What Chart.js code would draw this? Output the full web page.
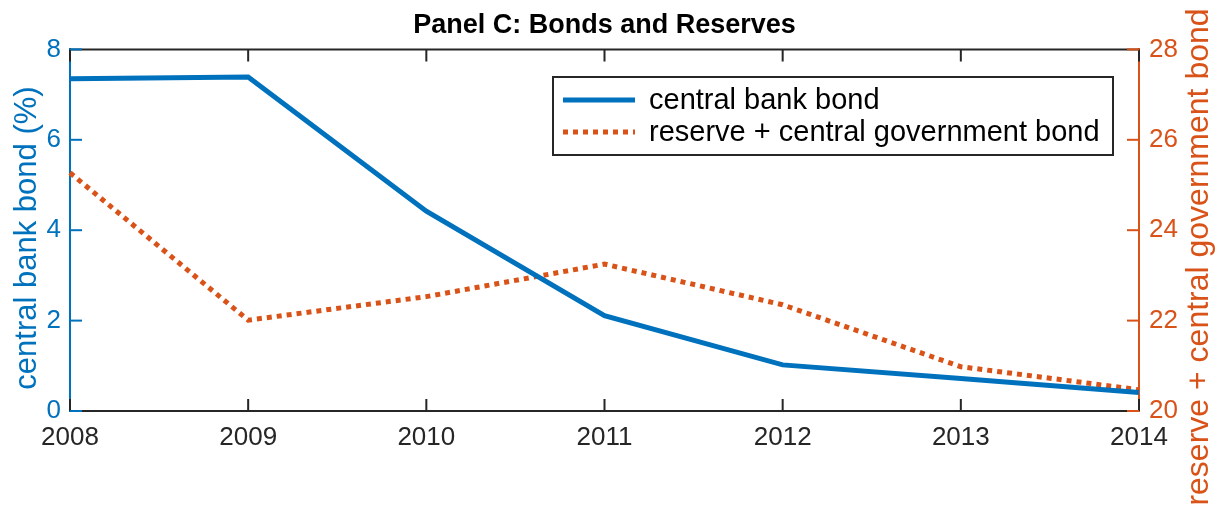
<!DOCTYPE html>
<html>
<head>
<meta charset="utf-8">
<title>Panel C: Bonds and Reserves</title>
<script src="https://cdn.jsdelivr.net/npm/chart.js@4/dist/chart.umd.min.js"></script>
<style>
  html, body { margin: 0; padding: 0; background: #fff; }
  #bondsChart { display: block; }
</style>
</head>
<body>
<canvas id="bondsChart" width="1225" height="512"></canvas>
<script>
const years = ['2008', '2009', '2010', '2011', '2012', '2013', '2014'];
const centralBankBond = [7.35, 7.39, 4.42, 2.11, 1.02, 0.72, 0.41];
const reserveGovBond = [25.27, 22.01, 22.53, 23.25, 22.35, 20.98, 20.47];
const leftTicks = [0, 2, 4, 6, 8];
const rightTicks = [20, 22, 24, 26, 28];

const BLUE = '#0072BD';
const ORANGE = '#D95319';
const DARK = '#262626';
const FONT = "'Liberation Sans', Arial, Helvetica, sans-serif";

// tick marks inside the box, like the old matlab figures
const innerTicks = {
  id: 'innerTicks',
  beforeDatasetsDraw(chart) {
    const { ctx, chartArea: a, scales } = chart;
    const len = 12;
    ctx.save();
    ctx.lineWidth = 2;

    // top edge of the box
    ctx.strokeStyle = DARK;
    ctx.beginPath();
    ctx.moveTo(a.left, a.top);
    ctx.lineTo(a.right, a.top);
    ctx.stroke();

    scales.x.ticks.forEach((t, i) => {
      const x = scales.x.getPixelForTick(i);
      ctx.beginPath();
      ctx.moveTo(x, a.bottom);
      ctx.lineTo(x, a.bottom - len);
      ctx.moveTo(x, a.top);
      ctx.lineTo(x, a.top + len);
      ctx.stroke();
    });

    ctx.strokeStyle = BLUE;
    leftTicks.forEach(v => {
      const y = scales.y.getPixelForValue(v);
      ctx.beginPath();
      ctx.moveTo(a.left, y);
      ctx.lineTo(a.left + len, y);
      ctx.stroke();
    });

    ctx.strokeStyle = ORANGE;
    rightTicks.forEach(v => {
      const y = scales.y1.getPixelForValue(v);
      ctx.beginPath();
      ctx.moveTo(a.right, y);
      ctx.lineTo(a.right - len, y);
      ctx.stroke();
    });
    ctx.restore();
  }
};

// rotated axis titles (right one reads bottom to top)
function drawRotated(ctx, text, x, y, size, color) {
  ctx.save();
  ctx.font = size + 'px ' + FONT;
  ctx.textAlign = 'center';
  ctx.textBaseline = 'middle';
  ctx.fillStyle = color;
  ctx.translate(x, y);
  ctx.rotate(-Math.PI / 2);
  ctx.fillText(text, 0, 0);
  ctx.restore();
}

const axisTitles = {
  id: 'axisTitles',
  afterDraw(chart) {
    drawRotated(chart.ctx, 'central bank bond (%)', 27, 238, 31, BLUE);
    drawRotated(chart.ctx, 'reserve + central government bond', 1199, 257, 32, ORANGE);
  }
};

// legend box in the upper right of the plot
const boxLegend = {
  id: 'boxLegend',
  afterDraw(chart) {
    const { ctx } = chart;
    const box = { x: 553, y: 77, w: 560, h: 78 };
    ctx.save();
    ctx.fillStyle = '#fff';
    ctx.fillRect(box.x, box.y, box.w, box.h);
    ctx.strokeStyle = DARK;
    ctx.lineWidth = 2;
    ctx.strokeRect(box.x, box.y, box.w, box.h);

    ctx.font = '29px ' + FONT;
    ctx.textBaseline = 'middle';
    chart.data.datasets.forEach((ds, i) => {
      const y = box.y + 23 + i * 32;
      ctx.strokeStyle = ds.borderColor;
      ctx.lineWidth = ds.borderWidth;
      ctx.setLineDash(ds.borderDash || []);
      ctx.beginPath();
      ctx.moveTo(box.x + 10, y);
      ctx.lineTo(box.x + 82, y);
      ctx.stroke();
      ctx.setLineDash([]);
      ctx.fillStyle = '#000';
      ctx.fillText(ds.label, box.x + 96, y + 1);
    });
    ctx.restore();
  }
};

new Chart(document.getElementById('bondsChart'), {
  type: 'line',
  data: {
    labels: years,
    datasets: [
      {
        label: 'central bank bond',
        data: centralBankBond,
        yAxisID: 'y',
        borderColor: BLUE,
        borderWidth: 5,
        pointRadius: 0,
        tension: 0,
        clip: false
      },
      {
        label: 'reserve + central government bond',
        data: reserveGovBond,
        yAxisID: 'y1',
        borderColor: ORANGE,
        borderWidth: 5,
        borderDash: [5, 5],
        pointRadius: 0,
        tension: 0,
        clip: false
      }
    ]
  },
  options: {
    responsive: false,
    animation: false,
    layout: { padding: 0 },
    plugins: {
      legend: { display: false },
      tooltip: { enabled: false },
      title: {
        display: true,
        fullSize: false,
        text: 'Panel C: Bonds and Reserves',
        color: '#000',
        font: { family: FONT, size: 27, weight: 'bold', lineHeight: 1.2 },
        padding: { top: 9, bottom: 8 }
      }
    },
    scales: {
      x: {
        type: 'category',
        offset: false,
        grid: { drawOnChartArea: false, drawTicks: false },
        border: { color: DARK, width: 2 },
        ticks: { color: DARK, font: { family: FONT, size: 26 }, padding: 11, maxRotation: 0 },
        afterFit(scale) { scale.height = 101; }
      },
      y: {
        position: 'left',
        min: 0,
        max: 8,
        grid: { drawOnChartArea: false, drawTicks: false },
        border: { color: BLUE, width: 2 },
        ticks: { stepSize: 2, color: BLUE, font: { family: FONT, size: 26 }, padding: 9 },
        afterFit(scale) { scale.width = 70; }
      },
      y1: {
        position: 'right',
        min: 20,
        max: 28,
        grid: { drawOnChartArea: false, drawTicks: false },
        border: { color: ORANGE, width: 2 },
        ticks: { stepSize: 2, color: ORANGE, font: { family: FONT, size: 26 }, padding: 10 },
        afterFit(scale) { scale.width = 86; }
      }
    }
  },
  plugins: [innerTicks, axisTitles, boxLegend]
});
</script>
</body>
</html>
